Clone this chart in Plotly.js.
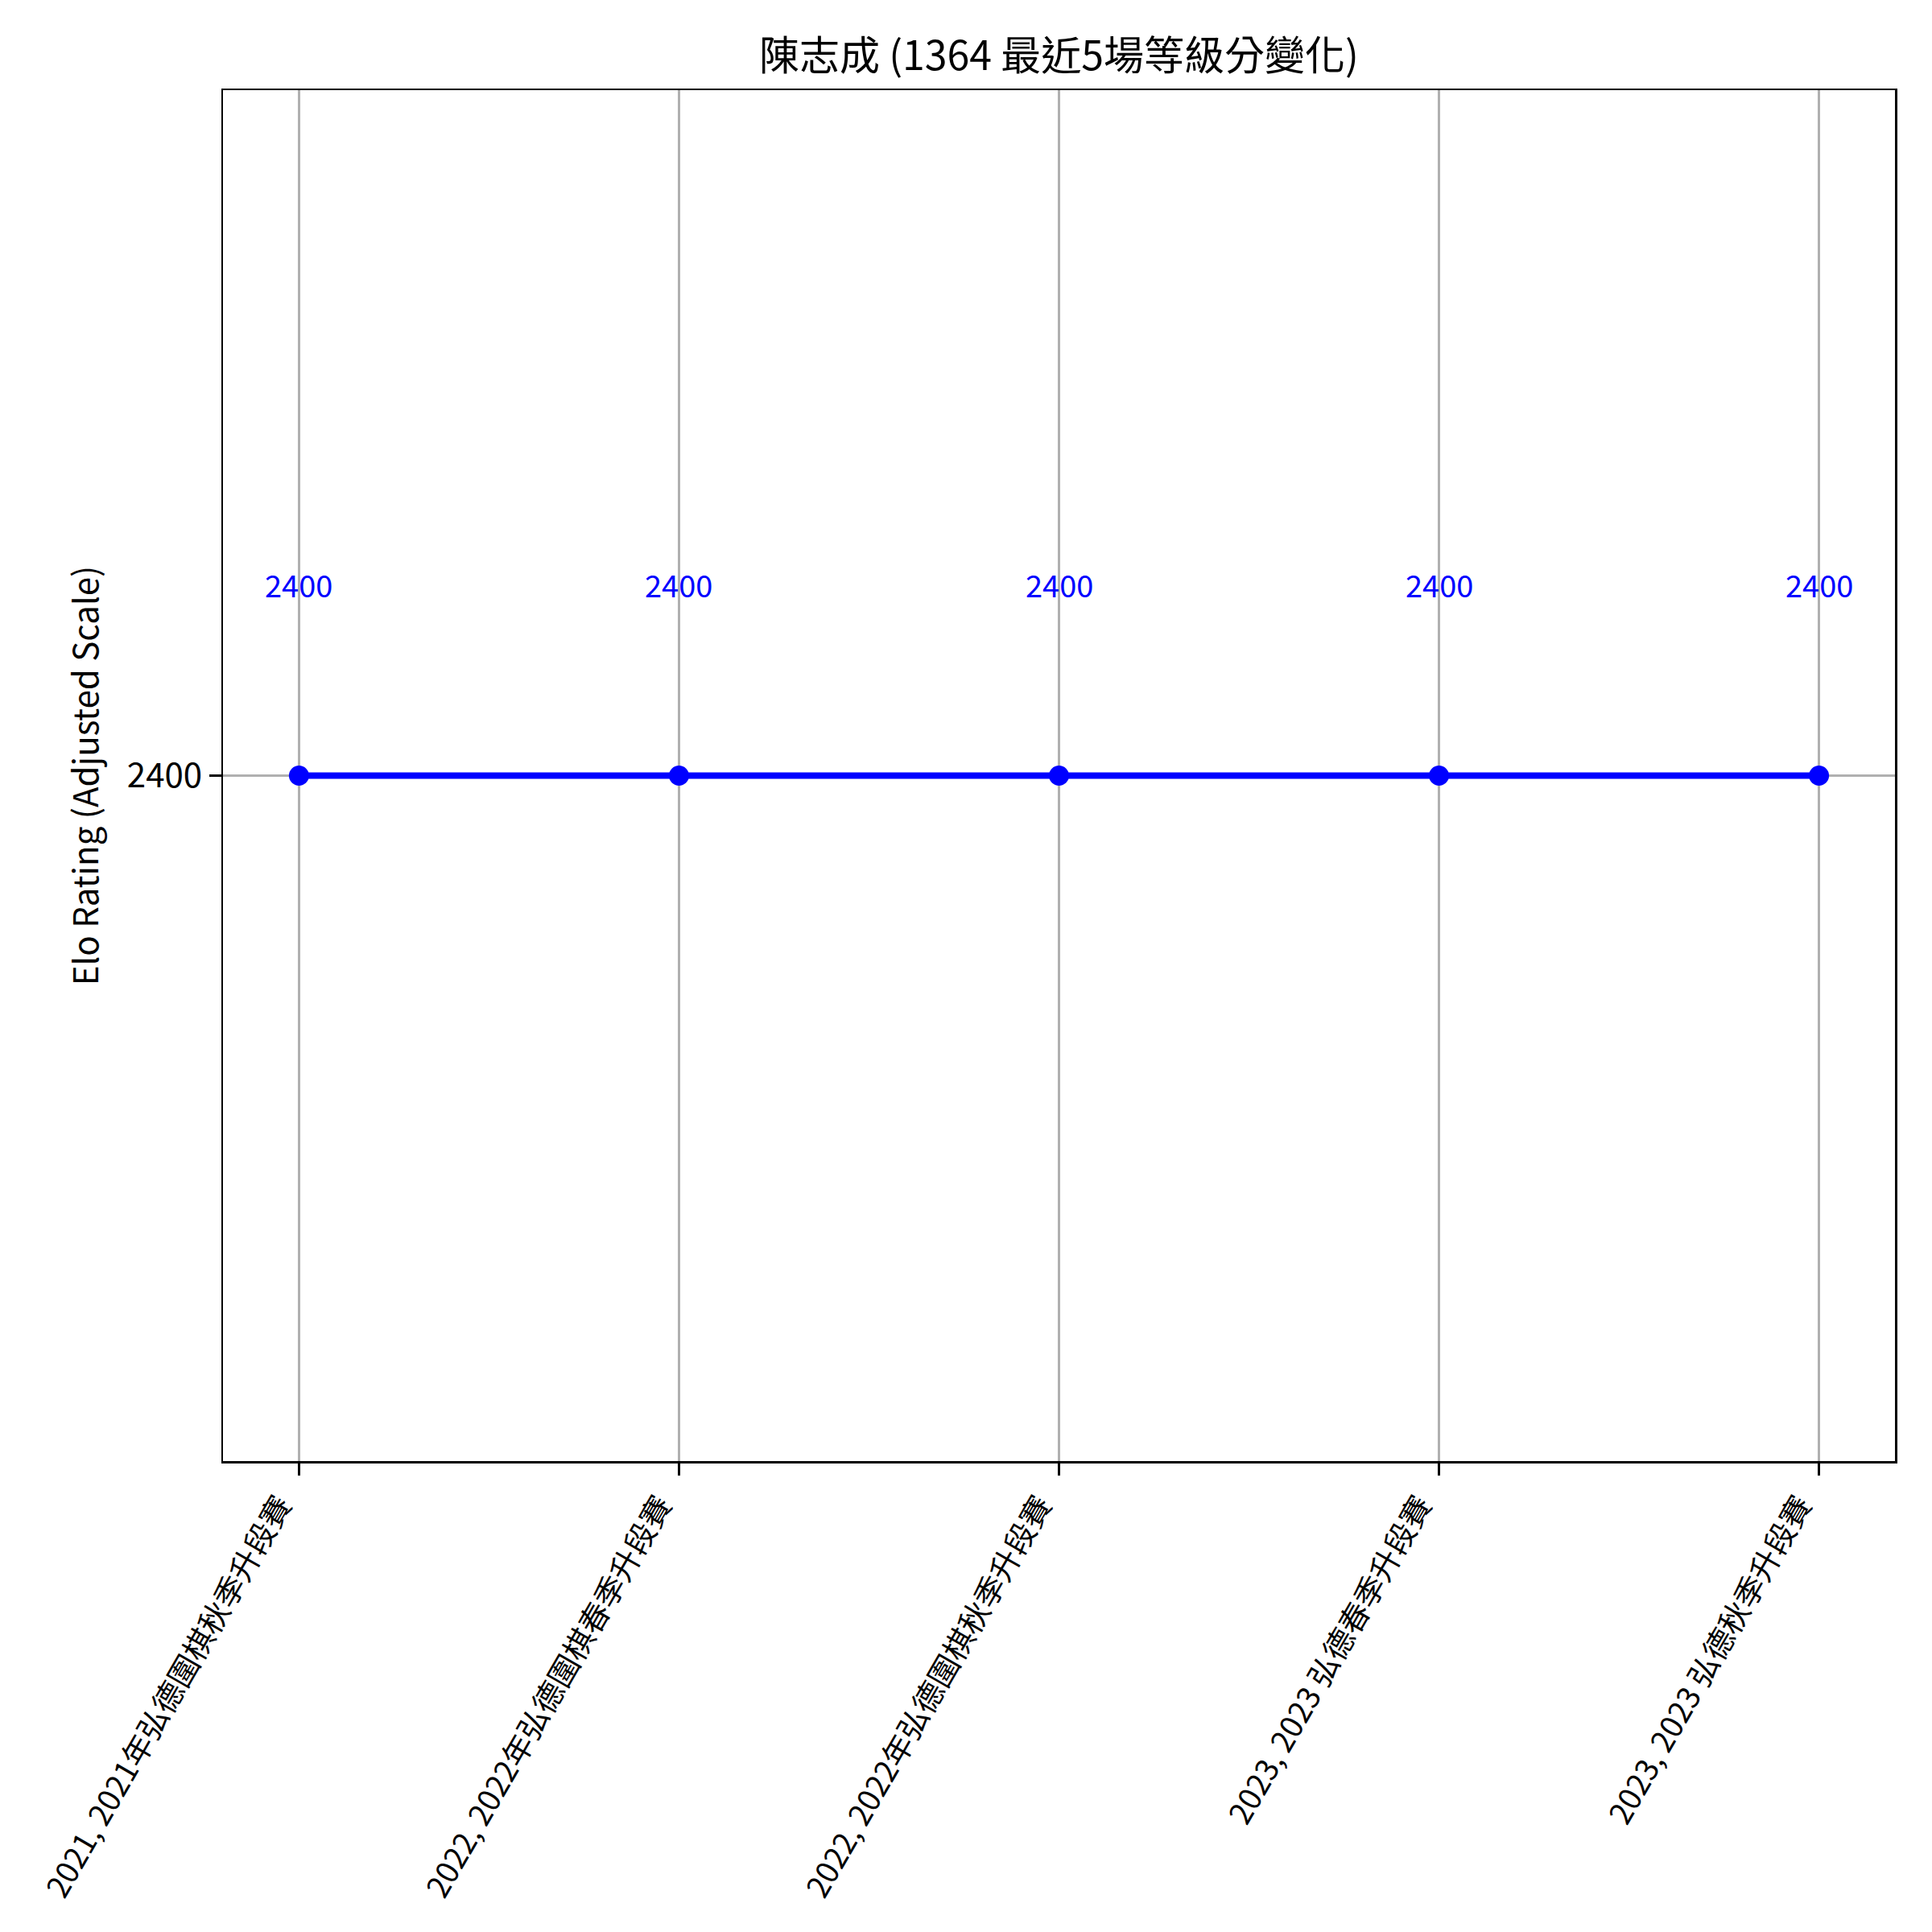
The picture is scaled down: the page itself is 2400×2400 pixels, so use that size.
<!DOCTYPE html>
<html>
<head>
<meta charset="utf-8">
<script src="https://cdn.plot.ly/plotly-3.0.1.min.js"></script>
<style>html,body{margin:0;padding:0;background:#fff;}</style>
</head>
<body>
<div id="chart" style="width:2400px;height:2400px;"></div>
<script>
const categories = [
  "2021, 2021年弘德圍棋秋季升段賽",
  "2022, 2022年弘德圍棋春季升段賽",
  "2022, 2022年弘德圍棋秋季升段賽",
  "2023, 2023 弘德春季升段賽",
  "2023, 2023 弘德秋季升段賽"
];
const ratings = [2400, 2400, 2400, 2400, 2400];
const ratingLabels = ["2400", "2400", "2400", "2400", "2400"];
const yTickVals = [2400];
const yTickText = ["2400"];
const titleText = "陳志成 (1364 最近5場等級分變化)";
const yTitleText = "Elo Rating (Adjusted Scale)";

const FONT = "'Noto Sans CJK TC', 'Noto Sans CJK SC', 'Noto Sans', sans-serif";
const pad = 100;
const yMid = ratings.reduce((a, b) => a + b, 0) / ratings.length;

const trace = {
  x: categories,
  y: ratings,
  type: 'scatter',
  mode: 'lines+markers',
  line: {color: '#0000ff', width: 8},
  marker: {color: '#0000ff', size: 25},
  hoverinfo: 'skip'
};

const annotations = categories.map((c, i) => ({
  x: c, y: ratings[i], text: ratingLabels[i],
  xref: 'x', yref: 'y', showarrow: false, yshift: 238,
  font: {family: FONT, size: 38, color: '#0000ff'}
}));

const layout = {
  width: 2400, height: 2400,
  margin: {l: 277, r: 46, t: 112, b: 585},
  paper_bgcolor: '#ffffff', plot_bgcolor: '#ffffff',
  showlegend: false,
  font: {family: FONT, color: '#000000'},
  title: {
    text: titleText, x: 0.5, xref: 'paper', xanchor: 'center',
    y: 1 - 69 / 2400, yref: 'container', yanchor: 'middle',
    font: {family: FONT, size: 50, color: '#000000'}
  },
  xaxis: {
    type: 'category',
    range: [-0.2, categories.length - 1 + 0.2],
    tickangle: -60,
    ticklabelshift: -24,
    tickfont: {family: FONT, size: 38, color: '#000000'},
    ticks: 'outside', ticklen: 15, tickwidth: 2.5, tickcolor: '#000000',
    showline: true, linecolor: '#000000', linewidth: 2.5, mirror: true,
    showgrid: true, gridcolor: '#b0b0b0', gridwidth: 2.5,
    zeroline: false, automargin: false
  },
  yaxis: {
    range: [yMid - pad, yMid + pad],
    tickvals: yTickVals, ticktext: yTickText,
    tickfont: {family: FONT, size: 42, color: '#000000'},
    ticks: 'outside', ticklen: 15, tickwidth: 2.5, tickcolor: '#000000',
    showline: true, linecolor: '#000000', linewidth: 2.5, mirror: true,
    showgrid: true, gridcolor: '#b0b0b0', gridwidth: 2.5,
    zeroline: false, automargin: false,
    title: {text: yTitleText, standoff: 22, font: {family: FONT, size: 42, color: '#000000'}}
  },
  annotations: annotations
};

Plotly.newPlot('chart', [trace], layout, {staticPlot: true, displayModeBar: false});
</script>
</body>
</html>
